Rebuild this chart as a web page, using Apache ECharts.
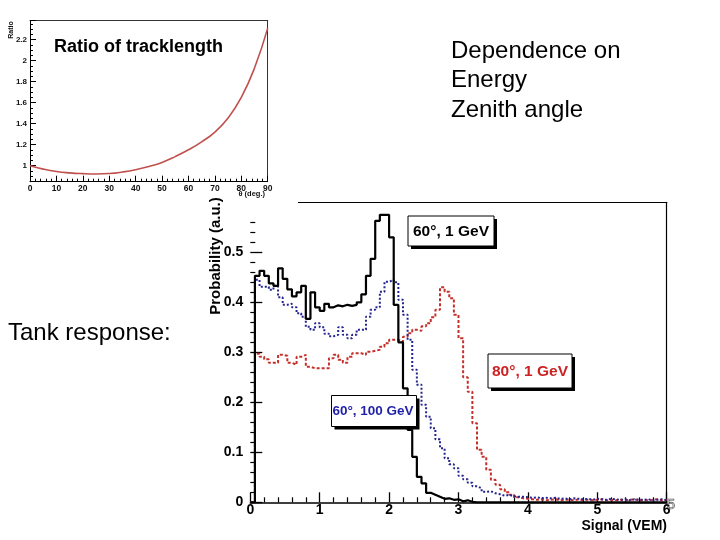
<!DOCTYPE html>
<html><head><meta charset="utf-8">
<script src="https://cdn.jsdelivr.net/npm/echarts@6/dist/echarts.min.js"></script>
<style>html,body{margin:0;padding:0;background:#fff}#c{width:720px;height:540px}</style>
</head><body><div id="c"></div>
<script>
// ---------- top chart: ratio of track length vs zenith angle ----------
const thetaDeg   = [0, 5, 10, 15, 20, 25, 30, 35, 40, 45, 50, 55, 60, 65, 70, 75, 80, 85, 90];
const trackRatio = [1.000, 0.968, 0.945, 0.932, 0.925, 0.922, 0.926, 0.940, 0.962, 0.993, 1.032, 1.087, 1.152, 1.228, 1.320, 1.455, 1.650, 1.930, 2.310];
const thetaTicks = [0, 10, 20, 30, 40, 50, 60, 70, 80, 90];
const ratioTicks = [1, 1.2, 1.4, 1.6, 1.8, 2, 2.2];

// ---------- bottom chart: tank response histograms (90 bins over 0-6 VEM) ----------
const signalTicks = [0, 1, 2, 3, 4, 5, 6];
const probTicks   = [0, 0.1, 0.2, 0.3, 0.4, 0.5];
const nBins = 90;
const signalMax = 6;
// 60 deg, 1 GeV (black solid)
const h60deg1GeV = [
 0, 0.453, 0.463, 0.453, 0.438, 0.433, 0.468, 0.447, 0.426, 0.412,
 0.420, 0.433, 0.367, 0.420, 0.390, 0.383, 0.397, 0.390, 0.394, 0.392,
 0.395, 0.393, 0.395, 0.400, 0.416, 0.453, 0.487, 0.563, 0.575, 0.575,
 0.530, 0.395, 0.320, 0.228, 0.145, 0.091, 0.051, 0.038, 0.019, 0.015,
 0.011, 0.007, 0.008, 0.005, 0.006, 0.002, 0.004, 0.001, 0, 0,
 0, 0, 0, 0, 0, 0, 0, 0, 0, 0,
 0, 0, 0, 0, 0, 0, 0, 0, 0, 0,
 0, 0, 0, 0, 0, 0, 0, 0, 0, 0,
 0, 0, 0, 0, 0, 0, 0, 0, 0, 0];
// 60 deg, 100 GeV (blue dotted)
const h60deg100GeV = [
 0, 0.445, 0.431, 0.431, 0.425, 0.433, 0.410, 0.395, 0.397, 0.390,
 0.378, 0.371, 0.351, 0.345, 0.358, 0.350, 0.337, 0.332, 0.335, 0.350,
 0.335, 0.328, 0.335, 0.345, 0.345, 0.371, 0.385, 0.390, 0.421, 0.441,
 0.445, 0.440, 0.405, 0.375, 0.325, 0.265, 0.235, 0.195, 0.171, 0.148,
 0.126, 0.108, 0.088, 0.076, 0.068, 0.053, 0.046, 0.039, 0.032, 0.028,
 0.021, 0.022, 0.018, 0.016, 0.013, 0.015, 0.012, 0.011, 0.011, 0.010,
 0.009, 0.010, 0.008, 0.009, 0.008, 0.009, 0.007, 0.008, 0.006, 0.008,
 0.007, 0.006, 0.007, 0.005, 0.007, 0.006, 0.005, 0.007, 0.006, 0.005,
 0.006, 0.004, 0.006, 0.005, 0.005, 0.006, 0.004, 0.005, 0.006, 0.004];
// 80 deg, 1 GeV (red dotted)
const h80deg1GeV = [
 0, 0.297, 0.291, 0.286, 0.279, 0.279, 0.295, 0.293, 0.279, 0.275,
 0.291, 0.295, 0.271, 0.268, 0.268, 0.268, 0.268, 0.288, 0.295, 0.285,
 0.279, 0.291, 0.298, 0.298, 0.295, 0.301, 0.303, 0.305, 0.311, 0.318,
 0.325, 0.325, 0.321, 0.331, 0.338, 0.345, 0.343, 0.352, 0.358, 0.370,
 0.385, 0.430, 0.421, 0.408, 0.375, 0.328, 0.250, 0.221, 0.158, 0.105,
 0.091, 0.065, 0.045, 0.035, 0.026, 0.020, 0.015, 0.010, 0.008, 0.007,
 0.006, 0.005, 0.006, 0.004, 0.005, 0.006, 0.004, 0.005, 0.005, 0.004,
 0.006, 0.004, 0.005, 0.004, 0.005, 0.006, 0.004, 0.005, 0.004, 0.005,
 0.004, 0.005, 0.006, 0.004, 0.005, 0.004, 0.005, 0.006, 0.004, 0.005];

const FONT = '"Liberation Sans", Arial, Helvetica, sans-serif';
const binW = signalMax / nBins;
function histData(vals) {
  const d = vals.map((v, i) => [i * binW, v]);
  d.push([vals.length * binW, vals[vals.length - 1]]);
  return d;
}

const chart = echarts.init(document.getElementById('c'), null, {renderer: 'canvas'});

const blk = {color: '#000', width: 1};
function frameAxis(gridIndex, pos) {
  return {gridIndex, type: 'value', position: pos, min: 0, max: 1,
    axisLine: {show: true, onZero: false, lineStyle: {color: '#000', width: 1.2}},
    axisTick: {show: false}, axisLabel: {show: false}, splitLine: {show: false}};
}

const option = {
  animation: false,
  backgroundColor: '#fff',
  grid: [
    {left: 30, top: 20.7, width: 237.7, height: 161, outerBoundsMode: 'none', containLabel: false},
    {left: 250.3, top: 202.3, width: 416.4, height: 300, outerBoundsMode: 'none', containLabel: false}
  ],
  xAxis: [
    {gridIndex: 0, type: 'value', min: thetaTicks[0], max: thetaTicks[thetaTicks.length - 1], interval: 10,
      axisLine: {show: true, onZero: false, lineStyle: {color: '#000', width: 1}},
      axisTick: {show: true, inside: true, length: 6, lineStyle: blk},
      minorTick: {show: true, splitNumber: 5, length: 3, lineStyle: blk},
      axisLabel: {show: true, fontFamily: FONT, fontWeight: 'bold', fontSize: 8.5, color: '#111', margin: 2},
      splitLine: {show: false}, minorSplitLine: {show: false}},
    Object.assign(frameAxis(0, 'top'), {axisLine: {show: true, onZero: false, lineStyle: {color: '#333', width: 1}}}),
    {gridIndex: 1, type: 'value', min: signalTicks[0], max: signalTicks[signalTicks.length - 1], interval: 1,
      axisLine: {show: true, onZero: false, lineStyle: {color: '#000', width: 1.6}},
      axisTick: {show: true, inside: true, length: 10, lineStyle: {color: '#000', width: 1.3}},
      minorTick: {show: true, splitNumber: 5, length: 5, lineStyle: {color: '#000', width: 1.2}},
      axisLabel: {show: true, fontFamily: FONT, fontWeight: 'bold', fontSize: 14, color: '#000', margin: 1},
      splitLine: {show: false}, minorSplitLine: {show: false}},
    frameAxis(1, 'top')
  ],
  yAxis: [
    {gridIndex: 0, type: 'value', min: 0.848, max: 2.381, splitNumber: 7,
      axisLine: {show: true, onZero: false, lineStyle: {color: '#000', width: 1}},
      axisTick: {show: true, inside: true, length: 6, lineStyle: blk},
      minorTick: {show: true, splitNumber: 4, length: 3, lineStyle: blk},
      axisLabel: {show: true, fontFamily: FONT, fontWeight: 'bold', fontSize: 8, color: '#111', margin: 3,
        showMinLabel: false, showMaxLabel: false,
        formatter: v => { const m = ratioTicks.find(t => Math.abs(t - v) < 1e-6); return m === undefined ? '' : String(m); }},
      splitLine: {show: false}, minorSplitLine: {show: false}},
    Object.assign(frameAxis(0, 'right'), {axisLine: {show: true, onZero: false, lineStyle: {color: '#333', width: 1}}}),
    {gridIndex: 1, type: 'value', min: 0, max: 0.6, interval: 0.1,
      axisLine: {show: false},
      axisTick: {show: true, inside: true, length: 12, lineStyle: {color: '#000', width: 1.3}},
      minorTick: {show: true, splitNumber: 5, length: 5, lineStyle: {color: '#000', width: 1.2}},
      axisLabel: {show: true, fontFamily: FONT, fontWeight: 'bold', fontSize: 14, color: '#000', margin: 7,
        showMaxLabel: false,
        formatter: v => { const m = probTicks.find(t => Math.abs(t - v) < 1e-6); return m === undefined ? '' : String(m); }},
      splitLine: {show: false}, minorSplitLine: {show: false}},
    frameAxis(1, 'right')
  ],
  series: [
    {type: 'line', name: 'ratio', xAxisIndex: 0, yAxisIndex: 0, smooth: 0.5,
      showSymbol: false, symbol: 'none', data: thetaDeg.map((t, i) => [t, trackRatio[i]]),
      lineStyle: {color: '#c0504d', width: 1.6}},
    {type: 'line', name: '80°, 1 GeV', xAxisIndex: 2, yAxisIndex: 2, step: 'end', showSymbol: false, symbol: 'none',
      data: histData(h80deg1GeV), lineStyle: {color: '#c4302b', width: 2, type: [3, 2]}},
    {type: 'line', name: '60°, 100 GeV', xAxisIndex: 2, yAxisIndex: 2, step: 'end', showSymbol: false, symbol: 'none',
      data: histData(h60deg100GeV), lineStyle: {color: '#24248f', width: 2, type: [2, 2]}},
    {type: 'line', name: '60°, 1 GeV', xAxisIndex: 2, yAxisIndex: 2, step: 'end', showSymbol: false, symbol: 'none',
      data: histData(h60deg1GeV), lineStyle: {color: '#000', width: 2.2}}
  ],
  graphic: [
    // white edge of the overlaid top picture
    {type: 'rect', z: 100, shape: {x: 236, y: 198, width: 62, height: 17}, style: {fill: '#fff'}},
    {type: 'text', z: 110, x: 54, y: 47, style: {text: 'Ratio of tracklength', font: 'bold 18px ' + FONT, fill: '#000',
      align: 'left', verticalAlign: 'middle', textAlign: 'left', textVerticalAlign: 'middle'}},
    {type: 'text', z: 110, x: 11, y: 30, rotation: Math.PI / 2, style: {text: 'Ratio', font: 'bold 7px ' + FONT, fill: '#111',
      align: 'center', verticalAlign: 'middle', textAlign: 'center', textVerticalAlign: 'middle'}},
    {type: 'text', z: 110, x: 265, y: 194, style: {text: 'θ (deg.)', font: 'bold 7.5px ' + FONT, fill: '#111',
      align: 'right', verticalAlign: 'middle', textAlign: 'right', textVerticalAlign: 'middle'}},
    {type: 'text', z: 110, x: 451, y: 51, style: {text: 'Dependence on', font: '24px ' + FONT, fill: '#000',
      align: 'left', verticalAlign: 'middle', textAlign: 'left', textVerticalAlign: 'middle'}},
    {type: 'text', z: 110, x: 451, y: 80, style: {text: 'Energy', font: '24px ' + FONT, fill: '#000',
      align: 'left', verticalAlign: 'middle', textAlign: 'left', textVerticalAlign: 'middle'}},
    {type: 'text', z: 110, x: 451, y: 110, style: {text: 'Zenith angle', font: '24px ' + FONT, fill: '#000',
      align: 'left', verticalAlign: 'middle', textAlign: 'left', textVerticalAlign: 'middle'}},
    {type: 'text', z: 110, x: 8, y: 333, style: {text: 'Tank response:', font: '24px ' + FONT, fill: '#000',
      align: 'left', verticalAlign: 'middle', textAlign: 'left', textVerticalAlign: 'middle'}},
    {type: 'text', z: 110, x: 216, y: 256, rotation: Math.PI / 2, style: {text: 'Probability (a.u.)', font: 'bold 15px ' + FONT, fill: '#000',
      align: 'center', verticalAlign: 'middle', textAlign: 'center', textVerticalAlign: 'middle'}},
    {type: 'text', z: 110, x: 667, y: 526, style: {text: 'Signal (VEM)', font: 'bold 14px ' + FONT, fill: '#000',
      align: 'right', verticalAlign: 'middle', textAlign: 'right', textVerticalAlign: 'middle'}},
    // label boxes (ROOT style with shadow)
    {type: 'rect', z: 60, shape: {x: 411, y: 219, width: 86, height: 30}, style: {fill: '#000'}},
    {type: 'rect', z: 61, shape: {x: 408, y: 216, width: 86, height: 30}, style: {fill: '#fff', stroke: '#000', lineWidth: 1}},
    {type: 'text', z: 62, x: 451, y: 231.5, style: {text: '60°, 1 GeV', font: 'bold 15.5px ' + FONT, fill: '#000',
      align: 'center', verticalAlign: 'middle', textAlign: 'center', textVerticalAlign: 'middle'}},
    {type: 'rect', z: 60, shape: {x: 491, y: 357, width: 84, height: 34}, style: {fill: '#000'}},
    {type: 'rect', z: 61, shape: {x: 488, y: 354, width: 84, height: 34}, style: {fill: '#fff', stroke: '#000', lineWidth: 1}},
    {type: 'text', z: 62, x: 530, y: 371.5, style: {text: '80°, 1 GeV', font: 'bold 15.5px ' + FONT, fill: '#cc2222',
      align: 'center', verticalAlign: 'middle', textAlign: 'center', textVerticalAlign: 'middle'}},
    {type: 'rect', z: 60, shape: {x: 334.5, y: 398.5, width: 85, height: 31}, style: {fill: '#000'}},
    {type: 'rect', z: 61, shape: {x: 331.5, y: 395.5, width: 85, height: 31}, style: {fill: '#fff', stroke: '#000', lineWidth: 1}},
    {type: 'text', z: 62, x: 373, y: 411, style: {text: '60°, 100 GeV', font: 'bold 13.5px ' + FONT, fill: '#1f1fa8',
      align: 'center', verticalAlign: 'middle', textAlign: 'center', textVerticalAlign: 'middle'}},
    // slide number
    {type: 'text', z: 120, x: 671, y: 505, style: {text: '5', font: '15px ' + FONT, fill: 'rgba(255,255,255,0)', stroke: '#555', lineWidth: 0.7,
      align: 'center', verticalAlign: 'middle', textAlign: 'center', textVerticalAlign: 'middle'}}
  ]
};
chart.setOption(option);
</script>
</body></html>
